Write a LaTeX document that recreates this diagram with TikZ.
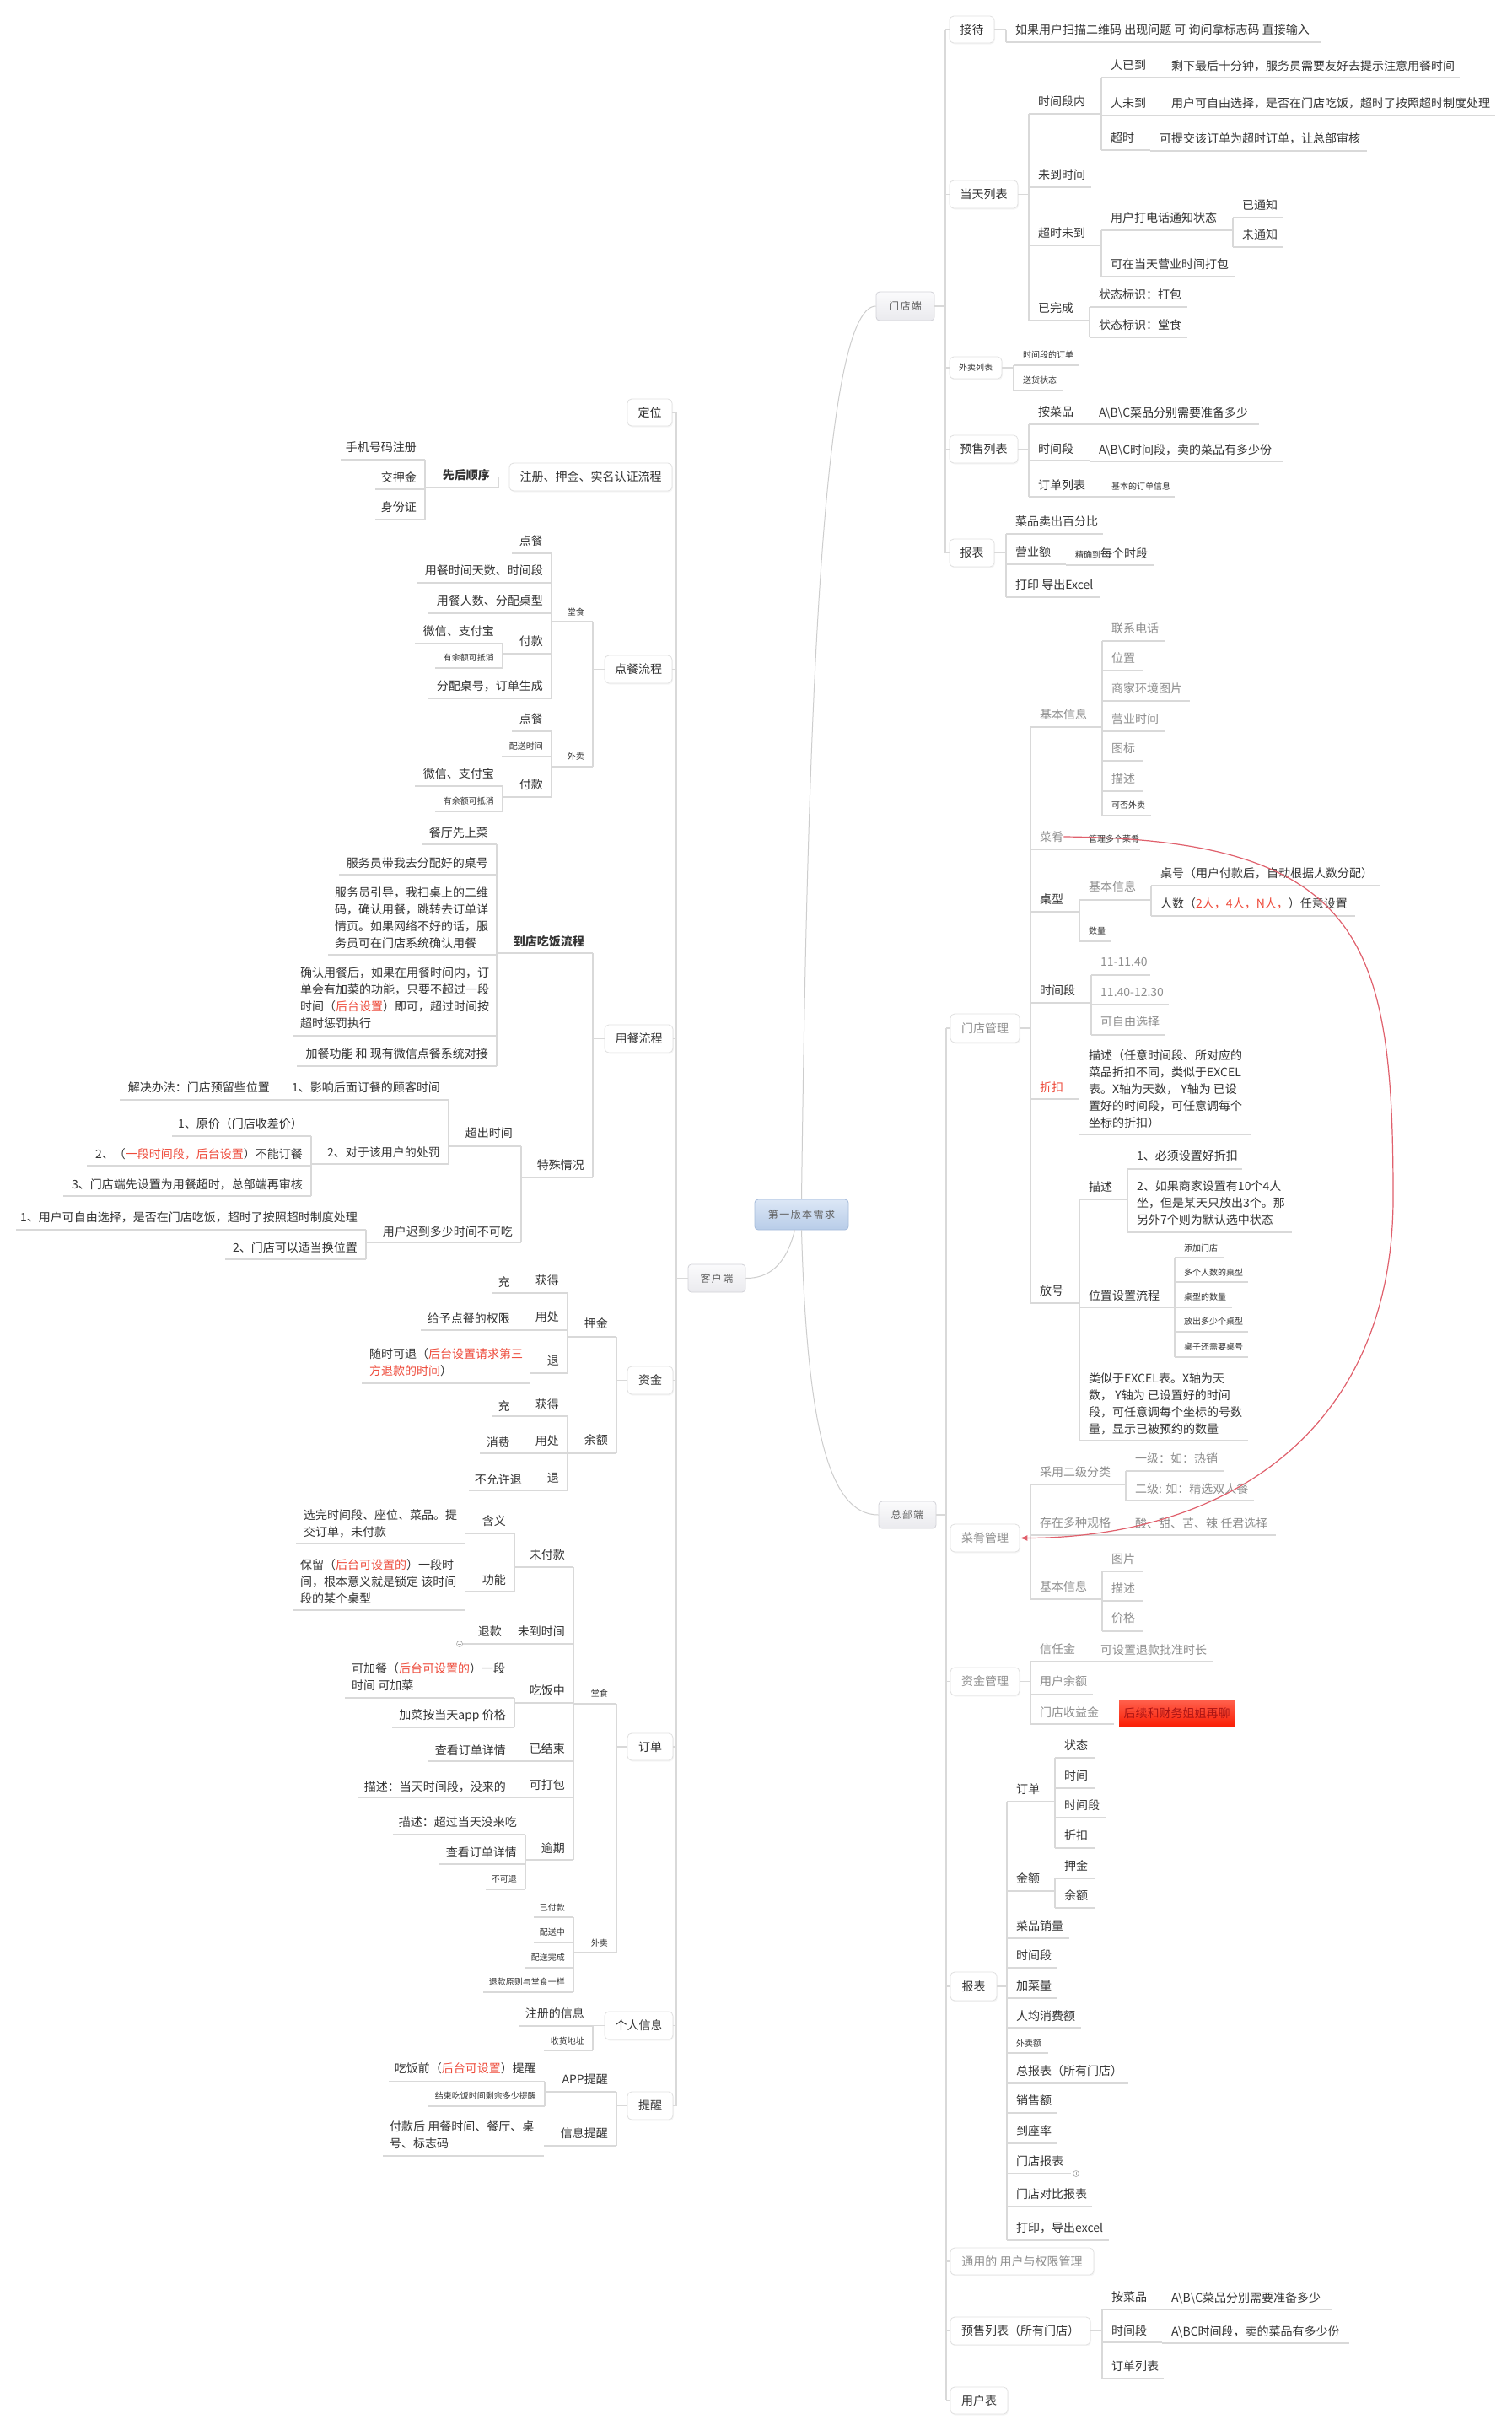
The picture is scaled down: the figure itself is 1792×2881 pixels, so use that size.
\documentclass[tikz,border=0pt]{standalone}
\usepackage{fontspec}
\setmainfont{Noto Sans CJK SC}
\newfontfamily\lvzfont[LetterSpace=12]{Noto Sans CJK SC}
\usetikzlibrary{shadows,arrows.meta}
\definecolor{tc}{HTML}{333333}
\definecolor{gc}{HTML}{8E8E8E}
\definecolor{rc}{HTML}{EE4B3B}
\definecolor{lc}{HTML}{D9D9D9}
\definecolor{bc}{HTML}{E0E0E0}
\definecolor{relc}{HTML}{E0606C}
\newcommand\myfn{\fontsize{14}{20}\selectfont}
\newcommand\myfs{\fontsize{10}{13}\selectfont}
\newcommand\rtx[1]{\textcolor{rc}{#1}}
\tikzset{
 ln/.style={draw=lc, line width=1.3pt},
 cl/.style={draw={rgb,255:red,205;green,205;blue,205}, line width=1pt},
 txt/.style={inner sep=0pt, font=\myfn, text=tc},
 one/.style={text height=12.3pt, text depth=1.7pt},
 sml/.style={font=\myfs, text height=8.8pt, text depth=1.2pt},
 mul/.style={align=left},
 gry/.style={text=gc},
 redt/.style={text=rc},
 lv1/.style={draw=bc, line width=0.8pt, fill=white, rounded corners=5pt, inner sep=0pt, font=\myfn, text=tc,
   drop shadow={opacity=0.07, shadow xshift=1pt, shadow yshift=-1.5pt}},
 lv0/.style={draw={rgb,255:red,210;green,210;blue,216}, line width=0.8pt, rounded corners=4pt, inner sep=0pt,
   top color={rgb,255:red,251;green,251;blue,252}, bottom color={rgb,255:red,234;green,234;blue,238},
   font=\lvzfont\fontsize{12}{14}\selectfont, text={rgb,255:red,96;green,96;blue,96}},
 mainbox/.style={draw={rgb,255:red,165;green,187;blue,218}, top color={rgb,255:red,220;green,231;blue,246},
   bottom color={rgb,255:red,184;green,204;blue,232}},
 redbox/.style={inner sep=0pt, minimum width=137pt, minimum height=31pt, font=\myfn,
   top color={rgb,255:red,255;green,95;blue,75}, bottom color={rgb,255:red,250;green,30;blue,5},
   text={rgb,255:red,170;green,20;blue,20}}
}
\newcommand\Rn[7]{\draw[ln] (#2,#4)--(#3,#4); \node[txt,#6,anchor=west] (#1) at ({#2+11},#5) {#7};}
\newcommand\Ln[7]{\draw[ln] (#2,#4)--(#3,#4); \node[txt,#6,anchor=east] (#1) at ({#3-10},#5) {#7};}
\newcommand\Lm[8]{\draw[ln] (#2,#4)--(#3,#4); \node[txt,#7,anchor=west] (#1) at (#6,#5) {#8};}
\newcommand\Vb[3]{\draw[ln] (#1,#2)--(#1,#3);}
\newcommand\Plus[2]{\draw[draw=gray!70, fill=white, line width=0.6pt] (#1,#2) circle (3.5);
  \draw[gray!70, line width=0.6pt] ({#1-2},#2)--({#1+2},#2) (#1,{#2-2})--(#1,{#2+2});}
\begin{document}
\begin{tikzpicture}[x=1pt,y=-1pt]
\fill[white] (0,0) rectangle (1792,2881);
\useasboundingbox (0,0) rectangle (1792,2881);

% ---------- level 0 ----------
\node[lv0,mainbox,minimum width=111pt,minimum height=36pt] (main) at (950.5,1440) {第一版本需求};
\node[lv0,minimum width=69pt,minimum height=34pt] (md) at (1073.5,363) {门店端};
\node[lv0,minimum width=68pt,minimum height=32pt] (zb) at (1076,1796) {总部端};
\node[lv0,minimum width=68pt,minimum height=33pt] (kh) at (850,1515.5) {客户端};
\draw[cl] (main.north) .. controls (957,900) and (972,363) .. (md.west);
\draw[cl] (main.south) .. controls (957,1700) and (985,1796) .. (zb.west);
\draw[cl] ([xshift=-8pt]main.south) .. controls (932,1500) and (912,1515.5) .. (kh.east);

% ---------- 门店端 level 1 ----------
\node[lv1,minimum width=53pt,minimum height=32pt] (jd) at (1152.5,35) {接待};
\node[lv1,minimum width=81pt,minimum height=33pt] (dt) at (1166.5,230.5) {当天列表};
\node[lv1,minimum width=62pt,minimum height=26pt,font=\myfs] (wm) at (1157,436) {外卖列表};
\node[lv1,minimum width=81pt,minimum height=33pt] (ys) at (1166.5,532.5) {预售列表};
\node[lv1,minimum width=53pt,minimum height=33pt] (bb) at (1152.5,655.5) {报表};
\draw[ln] (md.east) -- (1121,363);
\Vb{1121}{35}{655.5}
\foreach \nm/\yy in {jd/35,dt/230.5,wm/436,ys/532.5,bb/655.5}{\draw[ln] (1121,\yy) -- (\nm.west);}
\draw[ln] (jd.east) -- (1193,35); \Vb{1193}{35}{50}
\draw[ln] (dt.east) -- (1220,230.5); \Vb{1220}{135}{380}
\draw[ln] (wm.east) -- (1202,436); \Vb{1202}{433}{463}
\draw[ln] (ys.east) -- (1220,532.5); \Vb{1220}{503}{589}
\draw[ln] (bb.east) -- (1193,655.5); \Vb{1193}{633}{708}

\Rn{jd1}{1193}{1566}{50}{35}{one}{如果用户扫描二维码 出现问题 可 询问拿标志码 直接输入}
\Rn{dt1}{1220}{1306}{135}{120}{one}{时间段内}
\Vb{1306}{92}{178}
\Rn{dt11}{1306}{1378}{92}{77}{one}{人已到}
\Rn{dt111}{1378}{1731}{92}{78}{one}{剩下最后十分钟，服务员需要友好去提示注意用餐时间}
\Rn{dt12}{1306}{1378}{137}{122}{one}{人未到}
\Rn{dt121}{1378}{1773}{137}{122}{one}{用户可自由选择，是否在门店吃饭，超时了按照超时制度处理}
\Rn{dt13}{1306}{1364}{178}{163}{one}{超时}
\Rn{dt131}{1364}{1621}{179}{164}{one}{可提交该订单为超时订单，让总部审核}
\Rn{dt2}{1220}{1294}{222}{207}{one}{未到时间}
\Rn{dt3}{1220}{1306}{291}{276}{one}{超时未到}
\Vb{1306}{273}{328}
\Rn{dt31}{1306}{1462}{273}{258}{one}{用户打电话通知状态}
\Vb{1462}{258}{293}
\Rn{dt311}{1462}{1521}{258}{243}{one}{已通知}
\Rn{dt312}{1462}{1521}{293}{278}{one}{未通知}
\Rn{dt32}{1306}{1464}{328}{313}{one}{可在当天营业时间打包}
\Rn{dt4}{1220}{1292}{380}{365}{one}{已完成}
\Vb{1292}{364}{400}
\Rn{dt41}{1292}{1408}{364}{349}{one}{状态标识：打包}
\Rn{dt42}{1292}{1408}{400}{385}{one}{状态标识：堂食}
\Rn{wm1}{1202}{1280}{433}{421}{sml}{时间段的订单}
\Rn{wm2}{1202}{1260}{463}{451}{sml}{送货状态}
\Rn{ys1}{1220}{1292}{503}{488}{one}{按菜品}
\Rn{ys11}{1292}{1493}{503}{489}{one}{A\textbackslash B\textbackslash C菜品分别需要准备多少}
\Rn{ys2}{1220}{1292}{546}{532}{one}{时间段}
\Rn{ys21}{1292}{1521}{547}{533}{one}{A\textbackslash B\textbackslash C时间段，卖的菜品有多少份}
\Rn{ys3}{1220}{1307}{589}{575}{one}{订单列表}
\Rn{ys31}{1307}{1393}{589}{577}{sml}{基本的订单信息}
\Rn{bb1}{1193}{1308}{633}{618}{one}{菜品卖出百分比}
\Rn{bb2}{1193}{1264}{669}{654}{one}{营业额}
\Rn{bb21}{1264}{1368}{670}{656}{one}{{\myfs 精确到}每个时段}
\Rn{bb3}{1193}{1305}{708}{693}{one}{打印 导出Excel}

% ---------- 总部端 level 1 ----------
\node[lv1,gry,minimum width=82pt,minimum height=34pt] (mgm) at (1168,1219) {门店管理};
\node[lv1,gry,minimum width=82pt,minimum height=33pt] (cgm) at (1168,1823.5) {菜肴管理};
\node[lv1,gry,minimum width=82pt,minimum height=33pt] (zgm) at (1168,1993.5) {资金管理};
\node[lv1,minimum width=55pt,minimum height=34pt] (zbb) at (1154.5,2355) {报表};
\node[lv1,gry,minimum width=170pt,minimum height=32pt] (tyq) at (1212,2681) {通用的 用户与权限管理};
\node[lv1,minimum width=166pt,minimum height=33pt] (ysq) at (1210,2763.5) {预售列表（所有门店）};
\node[lv1,minimum width=68pt,minimum height=32pt] (yhb) at (1161,2846) {用户表};
\draw[ln] (zb.east) -- (1122,1796);
\Vb{1122}{1219}{2846}
\foreach \nm/\yy in {mgm/1219,cgm/1823.5,zgm/1993.5,zbb/2355,tyq/2681,ysq/2763.5,yhb/2846}{\draw[ln] (1122,\yy) -- (\nm.west);}
\draw[ln] (mgm.east) -- (1222,1219); \Vb{1222}{862}{1545}
\draw[ln] (cgm.east) -- (1222,1823.5); \Vb{1222}{1760}{1896}
\draw[ln] (zgm.east) -- (1222,1993.5); \Vb{1222}{1970}{2044}
\draw[ln] (zbb.east) -- (1194,2355); \Vb{1194}{2136}{2656}
\draw[ln] (ysq.east) -- (1307,2763.5); \Vb{1307}{2738}{2820}

\Rn{mg1}{1222}{1307}{862}{847}{one,gry}{基本信息}
\Vb{1307}{760}{967}
\Rn{mg11}{1307}{1382}{760}{745}{one,gry}{联系电话}
\Rn{mg12}{1307}{1355}{795}{780}{one,gry}{位置}
\Rn{mg13}{1307}{1411}{831}{816}{one,gry}{商家环境图片}
\Rn{mg14}{1307}{1382}{867}{852}{one,gry}{营业时间}
\Rn{mg15}{1307}{1355}{902}{887}{one,gry}{图标}
\Rn{mg16}{1307}{1355}{938}{923}{one,gry}{描述}
\Rn{mg17}{1307}{1365}{967}{955}{sml}{可否外卖}
\Rn{mg2}{1222}{1280}{1007}{992}{one,gry}{菜肴}
\Rn{mg21}{1280}{1352}{1007}{995}{sml}{管理多个菜肴}
\Rn{mg3}{1222}{1280}{1081}{1066}{one}{桌型}
\Vb{1280}{1067}{1116}
\Rn{mg31}{1280}{1365}{1067}{1051}{one,gry}{基本信息}
\Vb{1365}{1050}{1086}
\Rn{mg311}{1365}{1636}{1050}{1035}{one}{桌号（用户付款后，自动根据人数分配）}
\Rn{mg312}{1365}{1607}{1086}{1071}{one}{人数（\rtx{2人，4人，N人，}）任意设置}
\Rn{mg32}{1280}{1318}{1116}{1104}{sml}{数量}
\Rn{mg4}{1222}{1294}{1189}{1174}{one}{时间段}
\Vb{1294}{1156}{1227}
\Rn{mg41}{1294}{1364}{1156}{1140}{one,gry}{11-11.40}
\Rn{mg42}{1294}{1386}{1191}{1176}{one,gry}{11.40-12.30}
\Rn{mg43}{1294}{1382}{1227}{1211}{one,gry}{可自由选择}
\Rn{mg5}{1222}{1280}{1303}{1289}{one,redt}{折扣}
\Rn{mg51}{1280}{1483}{1345}{1291}{mul}{描述（任意时间段、所对应的\\菜品折扣不同，类似于EXCEL\\表。X轴为天数， Y轴为 已设\\置好的时间段，可任意调每个\\坐标的折扣）}
\Rn{mg6}{1222}{1280}{1545}{1530}{one}{放号}
\Vb{1280}{1422}{1708}
\Rn{mg61}{1280}{1337}{1422}{1407}{one}{描述}
\Vb{1337}{1386}{1461}
\Rn{mg611}{1337}{1473}{1386}{1370}{one}{1、必须设置好折扣}
\Rn{mg612}{1337}{1532}{1461}{1426}{mul}{2、如果商家设置有10个4人\\坐，但是某天只放出3个。那\\另外7个则为默认选中状态}
\Rn{mg62}{1280}{1393}{1550}{1536}{one}{位置设置流程}
\Vb{1393}{1491}{1609}
\Rn{mg621}{1393}{1452}{1491}{1480}{sml}{添加门店}
\Rn{mg622}{1393}{1480}{1520}{1509}{sml}{多个人数的桌型}
\Rn{mg623}{1393}{1461}{1550}{1538}{sml}{桌型的数量}
\Rn{mg624}{1393}{1480}{1579}{1567}{sml}{放出多少个桌型}
\Rn{mg625}{1393}{1480}{1609}{1597}{sml}{桌子还需要桌号}
\Rn{mg63}{1280}{1480}{1708}{1664}{mul}{类似于EXCEL表。X轴为天\\数，  Y轴为 已设置好的时间\\段，可任意调每个坐标的号数\\量，显示已被预约的数量}

\Rn{cg1}{1222}{1335}{1760}{1745}{one,gry}{采用二级分类}
\Vb{1335}{1744}{1779}
\Rn{cg11}{1335}{1452}{1744}{1729}{one,gry}{一级：如：热销}
\Rn{cg12}{1335}{1487}{1779}{1765}{one,gry}{二级: 如：精选双人餐}
\Rn{cg2}{1222}{1335}{1820}{1805}{one,gry}{存在多种规格}
\Rn{cg21}{1335}{1513}{1820}{1806}{one,gry}{酸、甜、苦、辣 任君选择}
\Rn{cg3}{1222}{1307}{1896}{1881}{one,gry}{基本信息}
\Vb{1307}{1863}{1934}
\Rn{cg31}{1307}{1355}{1863}{1848}{one,gry}{图片}
\Rn{cg32}{1307}{1355}{1898}{1883}{one,gry}{描述}
\Rn{cg33}{1307}{1355}{1934}{1918}{one,gry}{价格}

\Rn{zg1}{1222}{1294}{1970}{1955}{one,gry}{信任金}
\Rn{zg11}{1294}{1438}{1970}{1956}{one,gry}{可设置退款批准时长}
\Rn{zg2}{1222}{1296}{2009}{1993}{one,gry}{用户余额}
\Rn{zg3}{1222}{1321}{2044}{2030}{one,gry}{门店收益金}
\node[redbox] (zg31) at (1395.5,2031.5) {后续和财务姐姐再聊};

\Rn{zb1}{1194}{1251}{2136}{2121}{one}{订单}
\Vb{1251}{2084}{2191}
\Rn{zb11}{1251}{1299}{2084}{2069}{one}{状态}
\Rn{zb12}{1251}{1299}{2120}{2105}{one}{时间}
\Rn{zb13}{1251}{1312}{2155}{2140}{one}{时间段}
\Rn{zb14}{1251}{1299}{2191}{2176}{one}{折扣}
\Rn{zb2}{1194}{1251}{2242}{2227}{one}{金额}
\Vb{1251}{2227}{2262}
\Rn{zb21}{1251}{1299}{2227}{2212}{one}{押金}
\Rn{zb22}{1251}{1299}{2262}{2247}{one}{余额}
\Rn{zb3}{1194}{1268}{2298}{2283}{one}{菜品销量}
\Rn{zb4}{1194}{1254}{2333}{2318}{one}{时间段}
\Rn{zb5}{1194}{1254}{2369}{2354}{one}{加菜量}
\Rn{zb6}{1194}{1282}{2404}{2390}{one}{人均消费额}
\Rn{zb7}{1194}{1243}{2434}{2423}{sml}{外卖额}
\Rn{zb8}{1194}{1338}{2470}{2455}{one}{总报表（所有门店）}
\Rn{zb9}{1194}{1254}{2505}{2490}{one}{销售额}
\Rn{zb10}{1194}{1254}{2541}{2526}{one}{到座率}
\Rn{zb11x}{1194}{1270}{2577}{2562}{one}{门店报表}
\Plus{1276}{2577}
\Rn{zb12x}{1194}{1295}{2616}{2601}{one}{门店对比报表}
\Rn{zb13x}{1194}{1315}{2656}{2641}{one}{打印，导出excel}

\Rn{ya1}{1307}{1378}{2738}{2723}{one}{按菜品}
\Rn{ya11}{1378}{1579}{2738}{2724}{one}{A\textbackslash B\textbackslash C菜品分别需要准备多少}
\Rn{ya2}{1307}{1378}{2777}{2763}{one}{时间段}
\Rn{ya21}{1378}{1600}{2778}{2764}{one}{A\textbackslash BC时间段，卖的菜品有多少份}
\Rn{ya3}{1307}{1380}{2820}{2805}{one}{订单列表}

% ---------- 客户端 level 1 ----------
\node[lv1,minimum width=53pt,minimum height=32pt] (dw) at (770.5,489) {定位};
\node[lv1,minimum width=193pt,minimum height=33pt] (zcl) at (700.5,565.5) {注册、押金、实名认证流程};
\node[lv1,minimum width=80pt,minimum height=33pt] (dcl) at (757,793.5) {点餐流程};
\node[lv1,minimum width=81pt,minimum height=33pt] (ycl) at (757.5,1231.5) {用餐流程};
\node[lv1,minimum width=54pt,minimum height=33pt] (zj) at (771,1636.5) {资金};
\node[lv1,minimum width=54pt,minimum height=32pt] (dd) at (771,2071) {订单};
\node[lv1,minimum width=81pt,minimum height=33pt] (grx) at (757.5,2401.5) {个人信息};
\node[lv1,minimum width=54pt,minimum height=33pt] (txl) at (771,2496.5) {提醒};
\draw[ln] (kh.west) -- (802,1515.5);
\Vb{802}{489}{2496.5}
\foreach \nm/\yy in {dw/489,zcl/565.5,dcl/793.5,ycl/1231.5,zj/1636.5,dd/2071,grx/2401.5,txl/2496.5}{\draw[ln] (802,\yy) -- (\nm.east);}
\draw[ln] (zcl.west) -- (591,565.5); \Vb{591}{565.5}{578}
\draw[ln] (dcl.west) -- (703,793.5); \Vb{703}{737}{909}
\draw[ln] (ycl.west) -- (703,1231.5); \Vb{703}{1130}{1396}
\draw[ln] (zj.west) -- (731,1636.5); \Vb{731}{1585}{1723}
\draw[ln] (dd.west) -- (731,2071); \Vb{731}{2020}{2315}
\draw[ln] (grx.west) -- (703,2401.5); \Vb{703}{2401.5}{2431}
\draw[ln] (txl.west) -- (731,2496.5); \Vb{731}{2480}{2544}

\Ln{zc1}{504}{591}{578}{563}{one,font=\myfn\bfseries}{先后顺序}
\Vb{504}{545}{616}
\Ln{zc11}{404}{504}{545}{530}{one}{手机号码注册}
\Ln{zc12}{445}{504}{580}{566}{one}{交押金}
\Ln{zc13}{445}{504}{616}{601}{one}{身份证}

\Ln{dc1}{654}{703}{737}{726}{sml}{堂食}
\Vb{654}{656}{828}
\Ln{dc11}{607}{654}{656}{641}{one}{点餐}
\Ln{dc12}{494}{654}{691}{676}{one}{用餐时间天数、时间段}
\Ln{dc13}{508}{654}{727}{712}{one}{用餐人数、分配桌型}
\Ln{dc14}{596}{654}{775}{760}{one}{付款}
\Vb{596}{763}{792}
\Ln{dc141}{492}{596}{763}{748}{one}{微信、支付宝}
\Ln{dc142}{516}{596}{792}{780}{sml}{有余额可抵消}
\Ln{dc15}{508}{654}{828}{813}{one}{分配桌号，订单生成}
\Ln{dc2}{654}{703}{909}{897}{sml}{外卖}
\Vb{654}{867}{945}
\Ln{dc21}{607}{654}{867}{852}{one}{点餐}
\Ln{dc22}{595}{654}{897}{885}{sml}{配送时间}
\Ln{dc23}{596}{654}{945}{930}{one}{付款}
\Vb{596}{932}{962}
\Ln{dc231}{492}{596}{932}{917}{one}{微信、支付宝}
\Ln{dc232}{516}{596}{962}{950}{sml}{有余额可抵消}

\Ln{yc1}{589}{703}{1130}{1116}{one,font=\myfn\bfseries}{到店吃饭流程}
\Vb{589}{1001}{1264}
\Ln{yc11}{500}{589}{1001}{987}{one}{餐厅先上菜}
\Ln{yc12}{402}{589}{1037}{1023}{one}{服务员带我去分配好的桌号}
\Lm{yc13}{389}{589}{1132}{1088}{397}{mul}{服务员引导，我扫桌上的二维\\码，确认用餐，跳转去订单详\\情页。如果网络不好的话，服\\务员可在门店系统确认用餐}
\Lm{yc14}{347}{589}{1228}{1183}{356}{mul}{确认用餐后，如果在用餐时间内，订\\单会有加菜的功能，只要不超过一段\\时间（\rtx{后台设置}）即可，超过时间按\\超时惩罚执行}
\Ln{yc15}{352}{589}{1264}{1249}{one}{加餐功能 和 现有微信点餐系统对接}
\Ln{yc2}{618}{703}{1396}{1381}{one}{特殊情况}
\Vb{618}{1359}{1473}
\Ln{yc21}{532}{618}{1359}{1343}{one}{超出时间}
\Vb{532}{1304}{1380}
\Ln{yc211}{330}{532}{1304}{1289}{one}{1、影响后面订餐的顾客时间}
\Ln{yc2111}{142}{330}{1304}{1289}{one}{解决办法：门店预留些位置}
\Ln{yc212}{369}{532}{1380}{1366}{one}{2、对于该用户的处罚}
\Vb{369}{1347}{1418}
\Ln{yc2121}{204}{369}{1347}{1332}{one}{1、原价（门店收差价）}
\Ln{yc2122}{103}{369}{1382}{1368}{one}{2、（\rtx{一段时间段，后台设置}）不能订餐}
\Ln{yc2123}{75}{369}{1418}{1404}{one}{3、门店端先设置为用餐超时，总部端再审核}
\Ln{yc22}{434}{618}{1473}{1460}{one}{用户迟到多少时间不可吃}
\Vb{434}{1458}{1493}
\Ln{yc221}{19}{434}{1458}{1443}{one}{1、用户可自由选择，是否在门店吃饭，超时了按照超时制度处理}
\Ln{yc222}{267}{434}{1493}{1479}{one}{2、门店可以适当换位置}

\Ln{zj1}{673}{731}{1585}{1569}{one}{押金}
\Vb{673}{1533}{1628}
\Ln{zj11}{615}{673}{1533}{1518}{one}{获得}
\Ln{zj111}{584}{615}{1533}{1520}{one}{充}
\Ln{zj12}{615}{673}{1577}{1561}{one}{用处}
\Ln{zj121}{499}{615}{1577}{1563}{one}{给予点餐的权限}
\Ln{zj13}{629}{673}{1628}{1613}{one}{退}
\Lm{zj131}{429}{629}{1640}{1615}{438}{mul}{随时可退（\rtx{后台设置请求第三}\\\rtx{方退款的时间}）}
\Ln{zj2}{673}{731}{1723}{1707}{one}{余额}
\Vb{673}{1679}{1767}
\Ln{zj21}{615}{673}{1679}{1665}{one}{获得}
\Ln{zj211}{584}{615}{1679}{1667}{one}{充}
\Ln{zj22}{615}{673}{1723}{1708}{one}{用处}
\Ln{zj221}{569}{615}{1723}{1710}{one}{消费}
\Ln{zj23}{629}{673}{1767}{1752}{one}{退}
\Ln{zj231}{556}{629}{1767}{1754}{one}{不允许退}

\Ln{dd1}{680}{731}{2020}{2008}{sml}{堂食}
\Vb{680}{1858}{2205}
\Ln{dd11}{610}{680}{1858}{1843}{one}{未付款}
\Vb{610}{1818}{1887}
\Ln{dd111}{552}{610}{1818}{1803}{one}{含义}
\Lm{dd1111}{351}{552}{1830}{1806}{360}{mul}{选完时间段、座位、菜品。提\\交订单，未付款}
\Ln{dd112}{552}{610}{1887}{1873}{one}{功能}
\Lm{dd1121}{347}{552}{1909}{1875}{356}{mul}{保留（\rtx{后台可设置的}）一段时\\间，根本意义就是锁定 该时间\\段的某个桌型}
\Ln{dd12}{605}{680}{1949}{1934}{one}{未到时间}
\Ln{dd121}{548}{605}{1949}{1934}{one}{退款}
\Plus{545}{1949}
\Ln{dd13}{610}{680}{2019}{2004}{one}{吃饭中}
\Vb{610}{2013}{2048}
\Lm{dd131}{409}{610}{2013}{1988}{417}{mul}{可加餐（\rtx{后台可设置的}）一段\\时间 可加菜}
\Ln{dd132}{465}{610}{2048}{2033}{one}{加菜按当天app 价格}
\Ln{dd14}{610}{680}{2088}{2073}{one}{已结束}
\Ln{dd141}{507}{610}{2088}{2075}{one}{查看订单详情}
\Ln{dd15}{610}{680}{2131}{2116}{one}{可打包}
\Ln{dd151}{424}{610}{2131}{2118}{one}{描述：当天时间段，没来的}
\Ln{dd16}{623}{680}{2205}{2191}{one}{逾期}
\Vb{623}{2175}{2240}
\Ln{dd161}{466}{623}{2175}{2160}{one}{描述：超过当天没来吃}
\Ln{dd162}{521}{623}{2210}{2196}{one}{查看订单详情}
\Ln{dd163}{576}{623}{2240}{2228}{sml}{不可退}
\Ln{dd2}{680}{731}{2315}{2304}{sml}{外卖}
\Vb{680}{2273}{2362}
\Ln{dd21}{633}{680}{2273}{2262}{sml}{已付款}
\Ln{dd22}{633}{680}{2303}{2291}{sml}{配送中}
\Ln{dd23}{623}{680}{2333}{2321}{sml}{配送完成}
\Ln{dd24}{573}{680}{2362}{2350}{sml}{退款原则与堂食一样}

\Ln{gr1}{615}{703}{2402}{2387}{one}{注册的信息}
\Ln{gr2}{645}{703}{2431}{2420}{sml}{收货地址}

\Ln{tx1}{646}{731}{2480}{2465}{one}{APP提醒}
\Vb{646}{2468}{2497}
\Ln{tx11}{461}{646}{2468}{2452}{one}{吃饭前（\rtx{后台可设置}）提醒}
\Ln{tx12}{508}{646}{2497}{2485}{sml}{结束吃饭时间剩余多少提醒}
\Ln{tx2}{645}{731}{2544}{2529}{one}{信息提醒}
\Lm{tx21}{454}{645}{2556}{2531}{462}{mul}{付款后 用餐时间、餐厅、桌\\号、标志码}

% ---------- relationship ----------
\draw[relc, line width=1.2pt, -{Latex[length=9pt,width=7pt]}] (mg2.east) .. controls (1620,995) and (1652,1120) .. (1652,1420) .. controls (1652,1700) and (1450,1823) .. (cgm.east);
\end{tikzpicture}
\end{document}
